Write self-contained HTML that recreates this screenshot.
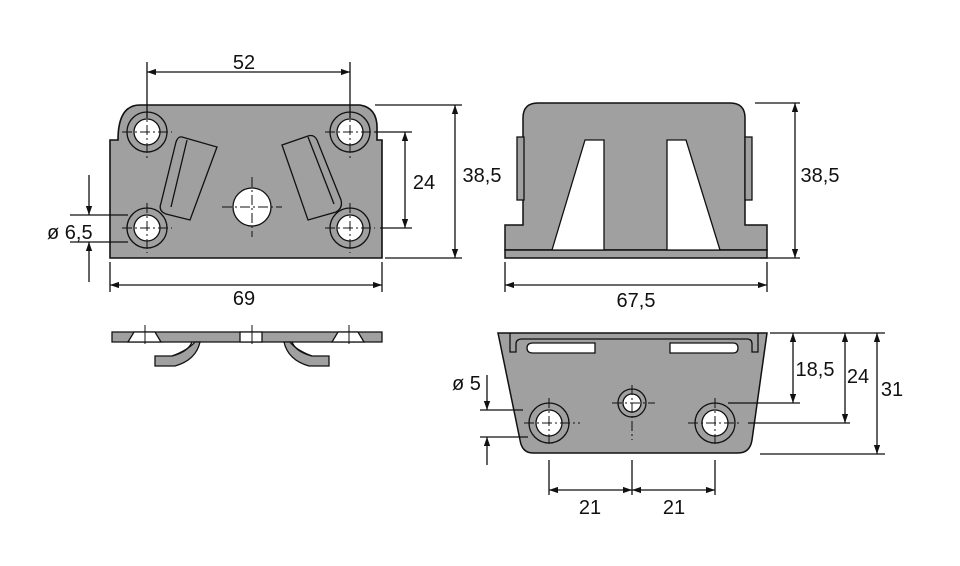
<!DOCTYPE html>
<html><head><style>body{margin:0;background:#fff}svg{display:block}text{font-family:"Liberation Sans",sans-serif;font-size:20px;fill:#111}</style></head>
<body>
<svg width="960" height="566" viewBox="0 0 960 566" xmlns="http://www.w3.org/2000/svg">
<defs>
<marker id="a" viewBox="0 0 10 10" refX="10" refY="5" markerWidth="9" markerHeight="9" orient="auto-start-reverse" markerUnits="userSpaceOnUse"><path d="M0,1.5L10,5L0,8.5z" fill="#111"/></marker>
</defs>
<g stroke="#111" stroke-width="1.3" fill="none">
<!-- View 1 -->
<path d="M110,140 H118 Q118,105 140,105 H360 Q378,108 377,130 V140 H382 V258 H110 Z" fill="#a0a0a0" stroke-width="1.6"/>
<g fill="#a0a0a0">
<path d="M182,137 L217,147 L190,220 L166,214 Q158,211 161,203 L176,142 Q178,136 182,137 Z"/>
<path d="M187,140 L171,207" />
<path d="M282,145 L308,136 Q314,134 317,140 L341,200 Q343,208 336,212 L308,220 Z"/>
<path d="M308,137 L334,204"/>
</g>
<g>
<circle cx="147" cy="132" r="20"/><circle cx="147" cy="132" r="13" fill="#fff"/>
<circle cx="350" cy="132" r="20"/><circle cx="350" cy="132" r="13" fill="#fff"/>
<circle cx="147" cy="228" r="20"/><circle cx="147" cy="228" r="13" fill="#fff"/>
<circle cx="350" cy="228" r="20"/><circle cx="350" cy="228" r="13" fill="#fff"/>
<circle cx="252" cy="207" r="19" fill="#fff"/>
</g>
<g stroke-dasharray="10,3,2,3" stroke-width="1">
<path d="M122,132H172M147,107V160M325,132H375M350,107V160M122,228H172M147,203V253M325,228H375M350,203V253M222,207H282M252,177V237"/>
</g>
<!-- dims view1 -->
<path d="M147,62V118M350,62V118M110,262V292M382,262V292"/>
<path d="M147,72H350" marker-start="url(#a)" marker-end="url(#a)"/>
<path d="M110,285H382" marker-start="url(#a)" marker-end="url(#a)"/>
<path d="M375,132H412M380,228H412M375,105H462M385,258H462"/>
<path d="M405,132V228" marker-start="url(#a)" marker-end="url(#a)"/>
<path d="M455,105V258" marker-start="url(#a)" marker-end="url(#a)"/>
<path d="M70,215H128M70,242H128"/>
<path d="M89,175V215" marker-end="url(#a)"/>
<path d="M89,282V242" marker-end="url(#a)"/>
<!-- side view -->
<path d="M112,332H382V342H112Z" fill="#a0a0a0"/>
<path d="M128,342L134,332H155L161,342Z M240,332H262V342H240Z M332,342L338,332H358L364,342Z" fill="#fff"/>
<path d="M155,356H172Q188,350 195,342H200Q196,360 175,366H155Z" fill="#a0a0a0"/>
<path d="M172,356Q188,352 192,342"/>
<path d="M329,356H312Q296,350 290,342H284Q288,360 309,366H329Z" fill="#a0a0a0"/>
<path d="M312,356Q296,352 292,342"/>
<path d="M145,325V344M252,325V344M349,325V344" stroke-width="1"/>
<!-- View 2 -->
<path d="M505,250V225H523V118Q523,103 538,103H730Q745,103 745,118V225H767V250Z" fill="#a0a0a0" stroke-width="1.5"/>
<rect x="505" y="250" width="262" height="8" fill="#a0a0a0" stroke-width="1.5"/>
<rect x="517" y="137" width="7" height="63" fill="#a0a0a0"/>
<rect x="745" y="137" width="7" height="63" fill="#a0a0a0"/>
<path d="M585,140H604V250H552Z" fill="#fff"/>
<path d="M667,140H686L720,250H667Z" fill="#fff"/>
<path d="M755,103H800M760,258H800M505,262V292M767,262V292"/>
<path d="M795,103V258" marker-start="url(#a)" marker-end="url(#a)"/>
<path d="M505,285H767" marker-start="url(#a)" marker-end="url(#a)"/>
<!-- View 3 -->
<path d="M498,333H767L752,440Q750,453 738,453H533Q522,453 520,440Z" fill="#a0a0a0" stroke-width="1.5"/>
<path d="M510,333V352H516V344Q516,339 522,339H747Q752,339 752,344V352H758V333"/>
<path d="M533,343H595V353H533Q527,353 527,348Q527,343 533,343Z" fill="#fff"/>
<path d="M670,343H733Q738,343 738,348Q738,353 733,353H670Z" fill="#fff"/>
<circle cx="549" cy="423" r="20"/><circle cx="549" cy="423" r="13" fill="#fff"/>
<circle cx="632" cy="403" r="14"/><circle cx="632" cy="403" r="9" fill="#fff"/>
<circle cx="715" cy="423" r="20"/><circle cx="715" cy="423" r="13" fill="#fff"/>
<g stroke-dasharray="10,3,2,3" stroke-width="1">
<path d="M524,423H580M549,398V447M612,403H655M632,385V440M688,423H740M715,398V447"/>
</g>
<path d="M549,460V495M632,460V495M715,460V495"/>
<path d="M549,490H632" marker-start="url(#a)" marker-end="url(#a)"/>
<path d="M632,490H715" marker-start="url(#a)" marker-end="url(#a)"/>
<path d="M770,333H885M728,403H800M748,423H850M760,454H885"/>
<path d="M793,333V403" marker-start="url(#a)" marker-end="url(#a)"/>
<path d="M845,333V423" marker-start="url(#a)" marker-end="url(#a)"/>
<path d="M877,333V454" marker-start="url(#a)" marker-end="url(#a)"/>
<path d="M480,410H523M480,437H528"/>
<path d="M487,375V410" marker-end="url(#a)"/>
<path d="M487,465V437" marker-end="url(#a)"/>
</g>
<text x="244" y="69" text-anchor="middle">52</text>
<text x="244" y="305" text-anchor="middle">69</text>
<text x="424" y="189" text-anchor="middle">24</text>
<text x="482" y="182" text-anchor="middle">38,5</text>
<text x="47" y="239">ø 6,5</text>
<text x="820" y="182" text-anchor="middle">38,5</text>
<text x="636" y="307" text-anchor="middle">67,5</text>
<text x="815" y="376" text-anchor="middle">18,5</text>
<text x="858" y="383" text-anchor="middle">24</text>
<text x="892" y="396" text-anchor="middle">31</text>
<text x="452" y="390">ø 5</text>
<text x="590" y="514" text-anchor="middle">21</text>
<text x="674" y="514" text-anchor="middle">21</text>
</svg>
</body></html>
